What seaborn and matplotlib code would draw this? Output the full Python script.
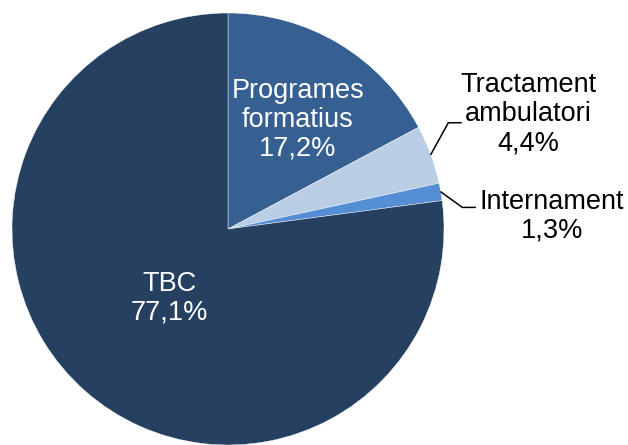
import matplotlib
matplotlib.use("Agg")
import matplotlib.pyplot as plt
import numpy as np
import seaborn as sns

# values (percent)
categories = ["Programes\nformatius", "Tractament\nambulatori", "Internament", "TBC"]
shares = [17.2, 4.4, 1.3, 77.1]
share_labels = ["17,2%", "4,4%", "1,3%", "77,1%"]
colors = ["#376092", "#B9CDE5", "#558ED5", "#264061"]

sns.set_theme(style="white")
plt.rcParams["font.family"] = ["Liberation Sans", "DejaVu Sans"]

fig = plt.figure(figsize=(6.28, 4.45), dpi=100)
ax = fig.add_axes([12 / 628, 0.0, 432 / 628, 432 / 445])

wedges, _ = ax.pie(
    shares,
    colors=colors,
    startangle=90,
    counterclock=False,
    radius=1.0,
    wedgeprops=dict(edgecolor="white", linewidth=0.3),
)
ax.set_xlim(-1, 1)
ax.set_ylim(-1, 1)
ax.axis("off")

fs = 19.5
# inside labels (white)
inside = {0: (0.324, 0.505), 3: (-0.27, -0.32)}
for i, (x, y) in inside.items():
    ax.text(x, y, f"{categories[i]}\n{share_labels[i]}", ha="center", va="center",
            color="white", fontsize=fs, linespacing=1.15)

# outside labels with leader lines
outside = {1: ((1.389, 0.532), (1.02, 0.492), (1.08, 0.492)),
           2: ((1.50, 0.06), (1.085, 0.10), (1.145, 0.10))}
for i, ((tx, ty), (kx, ky), (ex, ey)) in outside.items():
    w = wedges[i]
    mid = np.deg2rad((w.theta1 + w.theta2) / 2)
    sx, sy = np.cos(mid), np.sin(mid)
    ax.plot([sx, kx, ex], [sy, ky, ey], color="black", lw=1.1, clip_on=False)
    ax.text(tx, ty, f"{categories[i]}\n{share_labels[i]}", ha="center", va="center",
            color="black", fontsize=fs, linespacing=1.15, clip_on=False)

fig.savefig("out.png", dpi=100)
